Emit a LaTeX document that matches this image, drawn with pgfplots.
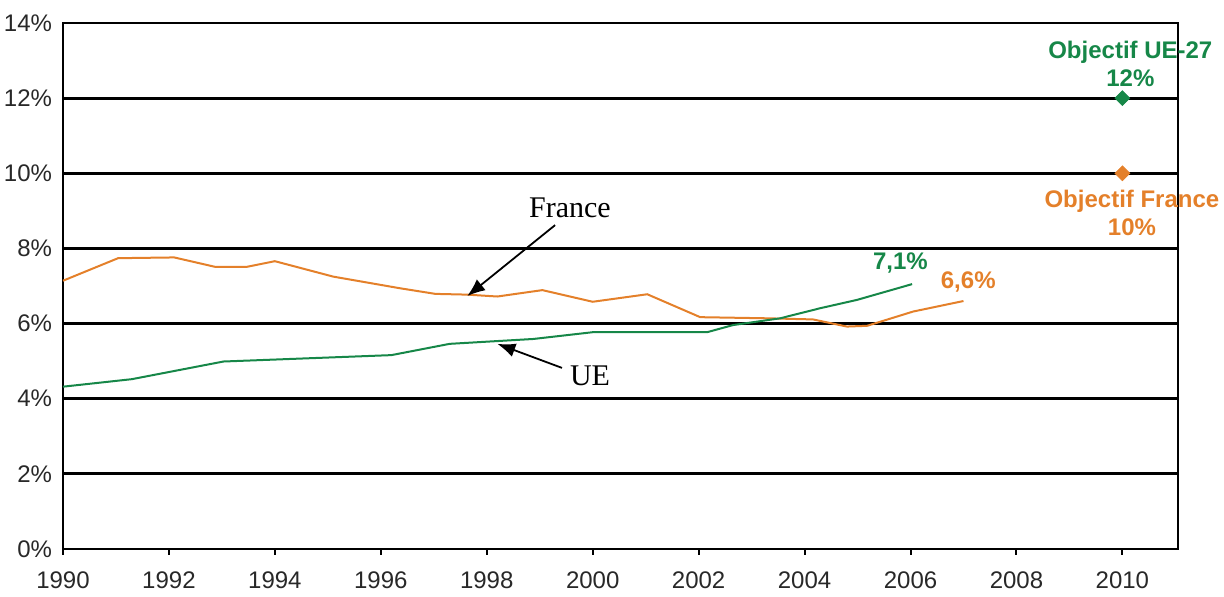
\documentclass[border=0pt]{standalone}
\usepackage{pgfplots}
\pgfplotsset{compat=1.18}
\usetikzlibrary{arrows.meta}
\usepackage{fontspec}
\setmainfont{Liberation Sans}
\newfontfamily\timesfont{Liberation Serif}
\definecolor{ueg}{RGB}{22,135,72}
\definecolor{fro}{RGB}{228,128,42}
\definecolor{tick}{RGB}{40,40,40}
\begin{document}
\begin{tikzpicture}
\begin{axis}[
  scale only axis,
  width=557.5pt, height=263pt,
  xmin=1990, xmax=2011.05, ymin=0, ymax=14,
  xtick={1990,1992,...,2010},
  ytick={0,2,...,14},
  ymajorgrids,
  grid style={black, line width=1.4pt},
  axis line style={black, line width=1.4pt},
  xtick style={black, line width=1pt},
  major tick length=3pt,
  tick align=outside,
  ytick style={draw=none},
  xtick pos=bottom,
  /pgf/number format/assume math mode=true,
  /pgf/number format/1000 sep={},
  xticklabel style={font=\fontsize{12}{13}\selectfont, text=tick, yshift=-5pt},
  yticklabel style={font=\fontsize{12}{13}\selectfont, text=tick, xshift=1pt},
  yticklabel={\pgfmathprintnumber{\tick}\%},
  clip=false,
]
\addplot[fro, line width=1pt] coordinates {
(1990,7.14) (1991.04,7.74) (1992.1,7.76) (1992.87,7.51) (1993.47,7.51)
(1994.0,7.66) (1995.1,7.25) (1996.36,6.94) (1997.03,6.79) (1997.63,6.77)
(1998.2,6.72) (1999.05,6.89) (2000.0,6.58) (2001.03,6.78) (2002.03,6.17)
(2003.3,6.14) (2004.16,6.11) (2004.8,5.92) (2005.18,5.94) (2006.05,6.32)
(2007.0,6.60)};
\addplot[ueg, line width=1pt] coordinates {
(1990,4.32) (1991.3,4.52) (1993.03,4.99) (1996.2,5.16) (1997.3,5.46)
(1998.88,5.59) (2000.0,5.77) (2002.16,5.77) (2002.65,5.96) (2003.54,6.14)
(2004.3,6.41) (2004.99,6.63) (2006.03,7.05)};
\addplot[only marks, mark=square*, mark options={rotate=45}, mark size=2.6pt, ueg] coordinates {(2010,12)};
\addplot[only marks, mark=square*, mark options={rotate=45}, mark size=2.6pt, fro] coordinates {(2010,10)};
\node[text=ueg, font=\bfseries\fontsize{12}{14}\selectfont, align=center, anchor=south, inner sep=0pt] at (axis cs:2010.15,12.3) {Objectif UE-27\\12\%};
\node[text=fro, font=\bfseries\fontsize{12}{14}\selectfont, align=center, anchor=north, inner sep=0pt] at (axis cs:2010.18,9.55) {Objectif France\\10\%};
\node[text=ueg, font=\bfseries\fontsize{12}{13}\selectfont] at (axis cs:2005.81,7.61) {7,1\%};
\node[text=fro, font=\bfseries\fontsize{12}{13}\selectfont] at (axis cs:2007.09,7.11) {6,6\%};
\node[font=\timesfont\fontsize{15}{16}\selectfont] at (axis cs:1999.57,9.08) {France};
\node[font=\timesfont\fontsize{15}{16}\selectfont] at (axis cs:1999.95,4.6) {UE};
\draw[-{Latex[length=9pt,width=7pt]}, line width=0.9pt] (axis cs:1999.29,8.62) -- (axis cs:1997.63,6.73);
\draw[-{Latex[length=9pt,width=7pt]}, line width=0.9pt] (axis cs:1999.42,4.82) -- (axis cs:1998.2,5.46);
\coordinate (SW) at (rel axis cs:0,0);
\coordinate (NE) at (rel axis cs:1,1);
\end{axis}
\pgfresetboundingbox
\path ([shift={(-31.5pt,-24pt)}]SW) rectangle ([shift={(23pt,11.5pt)}]NE);
\end{tikzpicture}
\end{document}
